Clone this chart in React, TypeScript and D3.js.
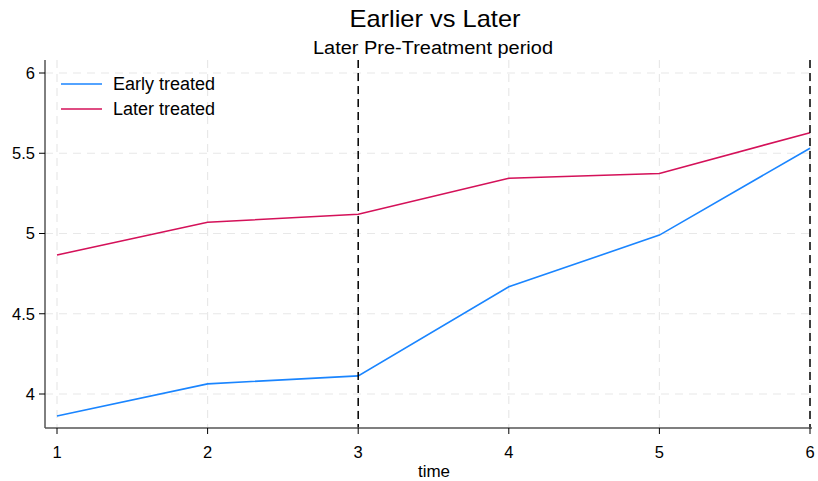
import React from "react";
import * as d3 from "d3";

const times = [1, 2, 3, 4, 5, 6];
const earlyTreated = [3.863, 4.063, 4.113, 4.668, 4.99, 5.531];
const laterTreated = [4.866, 5.07, 5.12, 5.344, 5.374, 5.628];
const yTicks = [4, 4.5, 5, 5.5, 6];
const yTickLabels = ["4", "4.5", "5", "5.5", "6"];
const refLines = [3, 6];
const seriesNames = ["Early treated", "Later treated"];
const seriesColors = ["#1a85ff", "#d41159"];

const W = 818;
const H = 481;
const font = "'Liberation Sans', Arial, sans-serif";

export default function App() {
  const x = d3.scaleLinear().domain([1, 6]).range([57, 810]);
  const y = d3.scaleLinear().domain([4, 6]).range([394, 73]);
  const left = 45;
  const right = 812;
  const top = 60;
  const bottom = 428;
  const line = d3
    .line<number>()
    .x((_, i) => x(times[i]))
    .y((d) => y(d));
  const series = [earlyTreated, laterTreated];

  return (
    <svg
      width={W}
      height={H}
      style={{ position: "absolute", left: 0, top: 0, background: "#fff" }}
      fontFamily={font}
    >
      <rect width={W} height={H} fill="#fff" />
      <text x={435} y={27} textAnchor="middle" fontSize={24} textLength={171} lengthAdjust="spacingAndGlyphs" fill="#000">
        Earlier vs Later
      </text>
      <text x={433} y={54} textAnchor="middle" fontSize={18} textLength={240} lengthAdjust="spacingAndGlyphs" fill="#000">
        Later Pre-Treatment period
      </text>
      {/* grid */}
      {yTicks.map((t) => (
        <line
          key={"gy" + t}
          x1={left}
          x2={right}
          y1={y(t)}
          y2={y(t)}
          stroke="#e8e8e8"
          strokeWidth={1.2}
          strokeDasharray="8,6"
        />
      ))}
      {times.map((t) => (
        <line
          key={"gx" + t}
          x1={x(t)}
          x2={x(t)}
          y1={top}
          y2={bottom}
          stroke="#e8e8e8"
          strokeWidth={1.2}
          strokeDasharray="8,6"
        />
      ))}
      {/* series */}
      {series.map((s, i) => (
        <path
          key={"s" + i}
          d={line(s) || ""}
          fill="none"
          stroke={seriesColors[i]}
          strokeWidth={1.6}
        />
      ))}
      {/* reference lines */}
      {refLines.map((t) => (
        <line
          key={"r" + t}
          x1={x(t)}
          x2={x(t)}
          y1={top}
          y2={bottom}
          stroke="#000"
          strokeWidth={1.5}
          strokeDasharray="8,5"
        />
      ))}
      {/* axes */}
      <line x1={left} x2={left} y1={top} y2={bottom} stroke="#000" strokeWidth={1} />
      <line x1={left} x2={right} y1={bottom} y2={bottom} stroke="#555" strokeWidth={1.5} />
      {yTicks.map((t, i) => (
        <g key={"yt" + t}>
          <line x1={left - 6} x2={left} y1={y(t)} y2={y(t)} stroke="#000" />
          <text
            x={left - 10}
            y={y(t)}
            dy="0.35em"
            textAnchor="end"
            fontSize={16.5}
            fill="#000"
          >
            {yTickLabels[i]}
          </text>
        </g>
      ))}
      {times.map((t) => (
        <g key={"xt" + t}>
          <line x1={x(t)} x2={x(t)} y1={bottom} y2={bottom + 6} stroke="#000" />
          <text x={x(t)} y={bottom + 30} textAnchor="middle" fontSize={16.5} fill="#000">
            {t}
          </text>
        </g>
      ))}
      <text x={434} y={477} textAnchor="middle" fontSize={17} fill="#000">
        time
      </text>
      {/* legend */}
      {seriesNames.map((n, i) => (
        <g key={"lg" + i}>
          <line
            x1={61}
            x2={102}
            y1={84 + i * 25}
            y2={84 + i * 25}
            stroke={seriesColors[i]}
            strokeWidth={1.6}
          />
          <text x={113} y={84 + i * 25} dy="0.35em" fontSize={18} fill="#000">
            {n}
          </text>
        </g>
      ))}
    </svg>
  );
}
